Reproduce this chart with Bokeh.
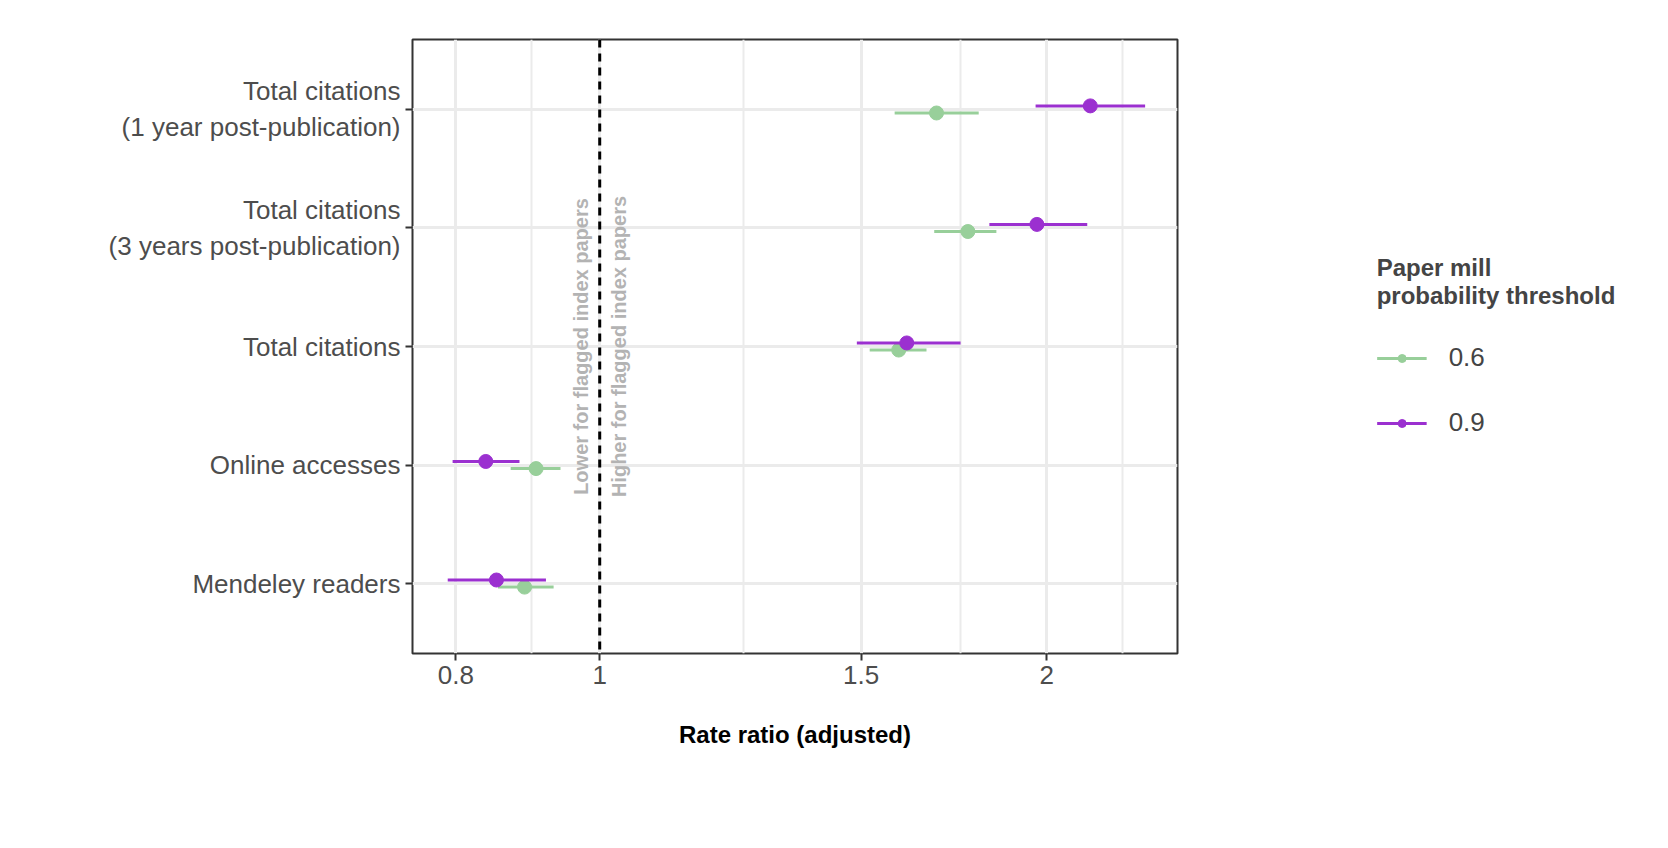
from math import pi
from bokeh.plotting import figure
from bokeh.models import ColumnDataSource, FixedTicker, Legend, LegendItem, Span
from bokeh.core.properties import value
from bokeh.embed import file_html
from bokeh.resources import INLINE

# outcomes, top to bottom
outcomes = ["Total citations\n(1 year post-publication)",
            "Total citations\n(3 years post-publication)",
            "Total citations",
            "Online accesses",
            "Mendeley readers"]
ypos = [5, 4, 3, 2, 1]

# threshold 0.6
rr_06 = [1.686, 1.77, 1.59, 0.906, 0.89]
lo_06 = [1.58, 1.68, 1.52, 0.871, 0.854]
hi_06 = [1.80, 1.85, 1.66, 0.941, 0.931]

# threshold 0.9
rr_09 = [2.14, 1.97, 1.61, 0.838, 0.852]
lo_09 = [1.966, 1.83, 1.49, 0.796, 0.790]
hi_09 = [2.33, 2.13, 1.75, 0.883, 0.92]

green = "#98cf9a"
purple = "#9b30d0"
font = "Liberation Sans"

p = figure(x_axis_type="log", x_range=(0.748, 2.45), y_range=(0.41, 5.59),
           frame_width=765, frame_height=614, min_border_left=412,
           min_border_top=39, min_border_bottom=90, min_border_right=10,
           output_backend="svg", toolbar_location=None)

s06 = ColumnDataSource(dict(y=[v - 0.03 for v in ypos], rr=rr_06, lo=lo_06, hi=hi_06))
s09 = ColumnDataSource(dict(y=[v + 0.03 for v in ypos], rr=rr_09, lo=lo_09, hi=hi_09))

g_seg = p.segment(x0="lo", x1="hi", y0="y", y1="y", source=s06, line_color=green, line_width=3)
g_pt = p.scatter(x="rr", y="y", source=s06, size=14, color=green)
p_seg = p.segment(x0="lo", x1="hi", y0="y", y1="y", source=s09, line_color=purple, line_width=3)
p_pt = p.scatter(x="rr", y="y", source=s09, size=14, color=purple)

p.add_layout(Span(location=1, dimension="height", line_color="black",
                  line_width=3, line_dash="8 6"))

p.text(x=[0.971, 1.031], y=[3.0, 3.0],
       text=["Lower for flagged index papers", "Higher for flagged index papers"],
       angle=pi / 2, text_align="center", text_baseline="middle",
       text_color="#b3b3b3", text_font=value(font), text_font_style="bold",
       text_font_size="20px")

p.xaxis.ticker = FixedTicker(ticks=[0.8, 1, 1.5, 2], minor_ticks=[0.9, 1.25, 1.75, 2.25])
p.xaxis.major_label_overrides = {0.8: "0.8", 1: "1", 1.5: "1.5", 2: "2"}
p.yaxis.ticker = FixedTicker(ticks=ypos)
p.yaxis.major_label_overrides = dict(zip(ypos, outcomes))

p.xaxis.axis_label = "Rate ratio (adjusted)"
p.xaxis.axis_label_text_font_style = "bold"
p.xaxis.axis_label_text_font_size = "24px"
p.xaxis.axis_label_text_color = "black"
p.xaxis.axis_label_standoff = 34
p.axis.axis_label_text_font = font
p.axis.major_label_text_font = font
p.axis.major_label_text_font_size = "26px"
p.axis.major_label_text_color = "#4d4d4d"
p.axis.minor_tick_line_color = None
p.axis.axis_line_color = None
p.axis.major_tick_line_color = "#333333"
p.axis.major_tick_line_width = 2
p.axis.major_tick_out = 7
p.axis.major_tick_in = 0

p.xgrid.grid_line_color = "#ebebeb"
p.xgrid.grid_line_width = 3
p.xgrid.minor_grid_line_color = "#ebebeb"
p.xgrid.minor_grid_line_width = 2
p.ygrid.grid_line_color = "#ebebeb"
p.ygrid.grid_line_width = 3
p.outline_line_color = "#333333"
p.outline_line_width = 2

legend = Legend(items=[LegendItem(label="0.6", renderers=[g_seg, g_pt]),
                       LegendItem(label="0.9", renderers=[p_seg, p_pt])],
                title="Paper mill\nprobability threshold",
                location="center", margin=40)
legend.title_text_font = font
legend.title_text_font_style = "bold"
legend.title_text_font_size = "24px"
legend.title_standoff = 32
legend.label_text_font = font
legend.label_text_font_size = "26px"
legend.label_standoff = 22
legend.border_line_color = None
legend.glyph_width = 50
legend.spacing = 34
legend.padding = 10
p.add_layout(legend, "right")

open("out.html", "w").write(file_html(p, INLINE))
